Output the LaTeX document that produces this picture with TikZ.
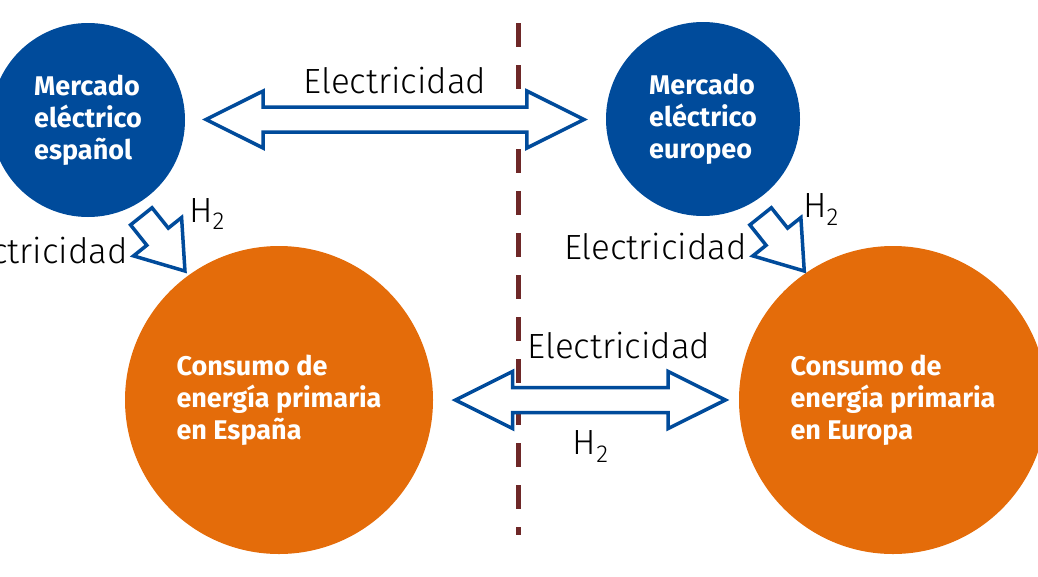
\documentclass[tikz,border=0pt]{standalone}
\usepackage{fontspec}
\setmainfont{Fira Sans}
\newfontfamily\lightfont{Fira Sans Light}
\usetikzlibrary{shapes.arrows}
\definecolor{mercblue}{RGB}{0,75,155}
\definecolor{consorange}{RGB}{228,108,10}
\definecolor{borderred}{RGB}{110,40,40}

\begin{document}
\begin{tikzpicture}[x=1pt, y=-1pt,
    mercado/.style={circle, fill=mercblue, text=white, minimum size=194pt, inner sep=0pt,
      align=left, font=\fontsize{27}{32}\selectfont\bfseries},
    consumo/.style={circle, fill=consorange, text=white, minimum size=308pt, inner sep=0pt,
      align=left, font=\fontsize{27}{32}\selectfont\bfseries},
    flecha/.style={draw=mercblue, line width=3.5pt, fill=white, inner sep=0pt, line join=miter},
    doble/.style={flecha, double arrow, double arrow tip angle=53,
      double arrow head extend=16pt, inner ysep=10.75pt},
    simple/.style={flecha, single arrow, single arrow tip angle=70,
      single arrow head extend=17pt, inner ysep=12pt, minimum height=70pt, rotate=-51.4},
    etiqueta/.style={font=\lightfont\fontsize{35}{40}\selectfont, inner sep=0pt}]
    \useasboundingbox (0,0) rectangle (1038,576);
    % border between Spain and Europe
    \coordinate (fTop) at (518,23);
    \coordinate (fBot) at (518,535);
    \draw[borderred, line width=5pt, dash pattern=on 24pt off 18pt] (fTop) -- (fBot);
    % markets and consumption
    \node[mercado] (mES) at (88,120) {Mercado\\eléctrico\\español};
    \node[mercado] (mEU) at (703,119) {Mercado\\eléctrico\\europeo};
    \node[consumo] (cES) at (279,400) {Consumo de\\energía primaria\\en España};
    \node[consumo] (cEU) at (893,400) {Consumo de\\energía primaria\\en Europa};
    % flows
    \node[doble, minimum height=378pt] (fElec) at (395,119.5) {};
    \node[doble, minimum height=270pt] (fInt) at (590.4,400) {};
    \node[simple] (fES) at (157,236) {};
    \node[simple] (fEU) at (776.3,236) {};
    % labels
    \node[etiqueta, anchor=base] (lElec) at (395,93) {Electricidad};
    \node[etiqueta, anchor=base west] (lHES) at (189,222) {H\textsubscript{2}};
    \node[etiqueta, anchor=base east] (lElecES) at (128,263) {Electricidad};
    \node[etiqueta, anchor=base west] (lHEU) at (803,217.7) {H\textsubscript{2}};
    \node[etiqueta, anchor=base east] (lElecEU) at (747,259.3) {Electricidad};
    \node[etiqueta, anchor=base] (lElecInt) at (619,358.3) {Electricidad};
    \node[etiqueta, anchor=base] (lHInt) at (590.7,454.3) {H\textsubscript{2}};
\end{tikzpicture}
\end{document}
